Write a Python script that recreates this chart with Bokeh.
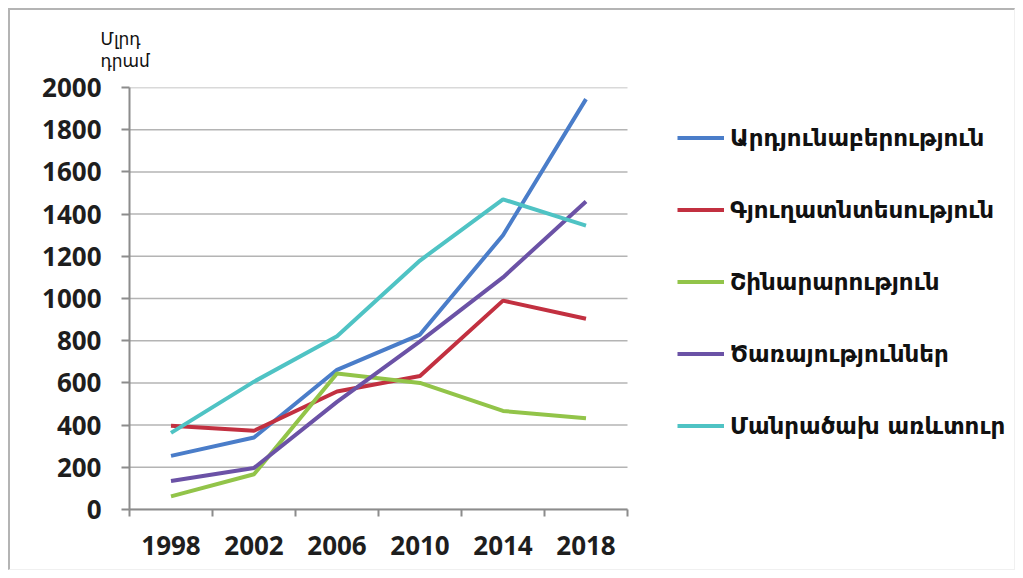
from bokeh.plotting import figure
from bokeh.models import (Legend, LegendItem, FixedTicker, Range1d)
from bokeh.embed import file_html
from bokeh.resources import INLINE

years = [1998, 2002, 2006, 2010, 2014, 2018]
industry = [254, 341, 662, 829, 1300, 1945]
agriculture = [397, 373, 559, 633, 990, 904]
construction = [62, 167, 645, 600, 467, 433]
services = [135, 197, 510, 797, 1100, 1460]
retail = [363, 606, 821, 1180, 1470, 1345]

series_names = ["Արդյունաբերություն", "Գյուղատնտեսություն", "Շինարարություն",
                "Ծառայություններ", "Մանրածախ առևտուր"]
series_values = [industry, agriculture, construction, services, retail]
colors = ["#4A7DC9", "#C23040", "#92C449", "#6B52A6", "#4FC3C4"]
y_ticks = list(range(0, 2001, 200))
unit_label = "Մլրդ\nդրամ"

step = years[1] - years[0]
boundaries = [years[0] - step / 2 + i * step for i in range(len(years) + 1)]

# plot frame spans the whole right side so the legend is not clipped;
# the axis and grid lines are bounded to the data area
FRAME_W = 888
data_px = 498
x_end = boundaries[0] + (boundaries[-1] - boundaries[0]) * FRAME_W / data_px

p = figure(width=1007, height=562, output_backend="svg", toolbar_location=None,
           x_range=Range1d(boundaries[0], x_end),
           y_range=Range1d(0, 2000),
           min_border_left=119, min_border_right=0,
           min_border_top=77, min_border_bottom=63)
p.outline_line_color = None
p.background_fill_color = "white"
p.border_fill_color = "white"
p.styles = {"margin": "8px 0 0 8px",
            "border-top": "2px solid #b4b4b4", "border-left": "2px solid #b4b4b4",
            "border-right": "1px solid #f0f0f0", "border-bottom": "1px solid #f0f0f0",
            "box-sizing": "border-box"}

# horizontal grid lines limited to the data area
p.segment(x0=[boundaries[0]] * len(y_ticks), x1=[boundaries[-1]] * len(y_ticks),
          y0=y_ticks, y1=y_ticks, line_color="#b4b4b4", line_width=1.5)

items = []
for name, vals, c in zip(series_names, series_values, colors):
    r = p.line(years, vals, line_color=c, line_width=4)
    items.append(LegendItem(label=name, renderers=[r]))

# axes
p.xaxis.bounds = (boundaries[0], boundaries[-1])
p.xaxis.ticker = FixedTicker(ticks=years, minor_ticks=boundaries)
p.xaxis.major_tick_line_color = None
p.xaxis.minor_tick_out = 7
p.xaxis.minor_tick_in = 0
p.xaxis.minor_tick_line_color = "#8c8c8c"
p.xaxis.minor_tick_line_width = 2
p.yaxis.ticker = FixedTicker(ticks=y_ticks)
p.yaxis.minor_tick_line_color = None
p.yaxis.major_tick_out = 8
p.yaxis.major_tick_in = 0
p.yaxis.major_tick_line_color = "#8c8c8c"
p.yaxis.major_tick_line_width = 2
for ax in (p.xaxis, p.yaxis):
    ax.axis_line_color = "#8c8c8c"
    ax.axis_line_width = 2
    ax.major_label_text_font = "Open Sans"
    ax.major_label_text_font_size = "26px"
    ax.major_label_text_font_style = "bold"
    ax.major_label_text_color = "#1e1e1e"
p.yaxis.major_label_standoff = 20
p.xaxis.major_label_standoff = 19

p.xgrid.grid_line_color = None
p.ygrid.grid_line_color = None

legend = Legend(items=items, location=(548, 70), orientation="vertical",
                glyph_width=47, glyph_height=27, label_height=27,
                spacing=45, padding=0, margin=0, label_standoff=6,
                border_line_color=None, background_fill_alpha=0,
                label_text_font="DejaVu Sans", label_text_font_style="bold",
                label_text_font_size="23px", label_text_color="#111111")
p.add_layout(legend, "center")

p.title.text = unit_label
p.title.align = "left"
p.title.offset = -29
p.title.standoff = 33
p.title.text_font = "DejaVu Sans"
p.title.text_font_size = "17px"
p.title.text_font_style = "normal"
p.title.text_color = "#111111"
p.title.text_line_height = 1.1

open("out.html", "w").write(file_html(p, INLINE))
